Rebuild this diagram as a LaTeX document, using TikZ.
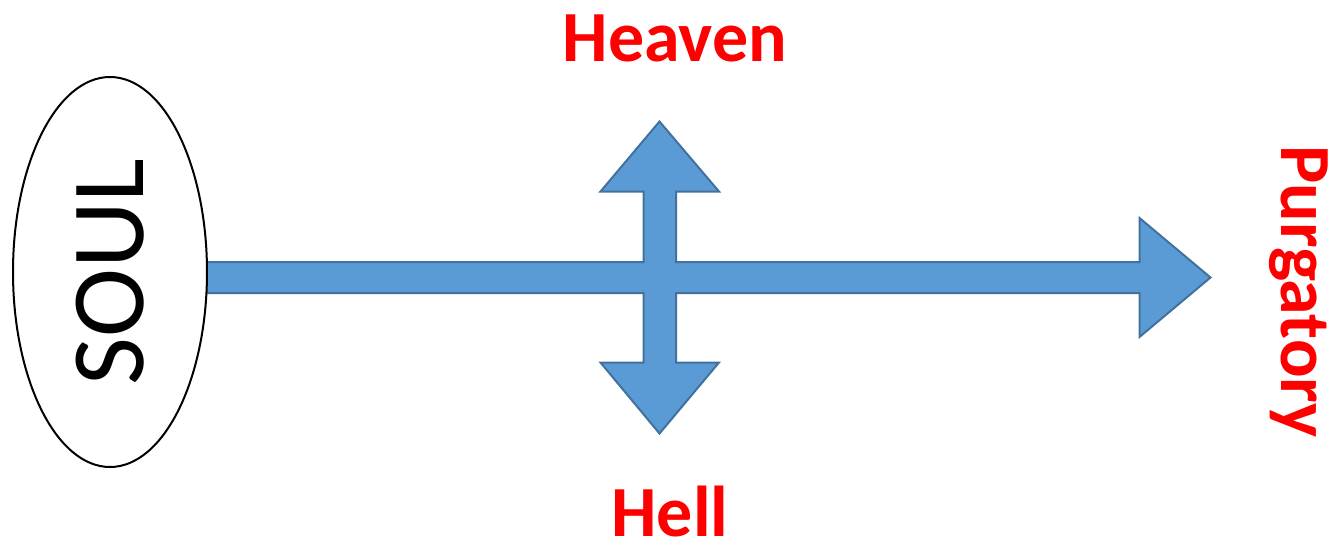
\documentclass[tikz,border=0pt]{standalone}
\usepackage{fontspec}
\setmainfont{Carlito}
\usepackage{tikz}
\usetikzlibrary{shapes.geometric,positioning,calc}
\definecolor{arrowblue}{HTML}{5B9BD5}
\definecolor{arrowedge}{HTML}{41719C}
\definecolor{labelred}{HTML}{FF0000}

\begin{document}
\begin{tikzpicture}[x=0.5pt,y=0.5pt,
  fate/.style={text=labelred,font=\bfseries\fontsize{36}{40}\selectfont,inner sep=0pt}]
  \useasboundingbox (0,0) rectangle (1334,548); % 図全体の大きさ
  \coordinate (mid) at (659.5,270.5); % 十字の交点
  \coordinate (start) at (205,270.5); % 横矢印の始点
  \fill[arrowblue] (start) ++(0,15.5) -- (643.5,286) -- (643.5,356.5) -- (600.5,356.5)
    -- (659.5,426.5) -- (719,356.5) -- (676,356.5) -- (676,286) -- (1139.5,286)
    -- (1139.5,330) -- (1210.5,270.5) -- (1139.5,211) -- (1139.5,255) -- (676,255)
    -- (676,185.5) -- (719,185.5) -- (659.5,114.5) -- (600.5,185.5) -- (643.5,185.5)
    -- (643.5,255) -- (205,255) -- cycle; % 矢印の塗り
  \draw[arrowedge,line width=1pt,line join=miter] (start) ++(0,15.5) -- (643.5,286) -- (643.5,356.5) -- (600.5,356.5)
    -- (659.5,426.5) -- (719,356.5) -- (676,356.5) -- (676,286) -- (1139.5,286)
    -- (1139.5,330) -- (1210.5,270.5) -- (1139.5,211) -- (1139.5,255) -- (676,255)
    -- (676,185.5) -- (719,185.5) -- (659.5,114.5) -- (600.5,185.5) -- (643.5,185.5)
    -- (643.5,255) -- (205,255); % 矢印の輪郭
  \node[ellipse,draw,line width=1pt,fill=white,rotate=90,minimum width=195pt,minimum height=97pt,
    inner sep=0pt,font=\fontsize{52}{56}\selectfont] (soul) at (110,276) {SOUL}; % 魂の楕円
  \node[fate,anchor=base] (heaven) at (675,486.3) {Heaven}; % 上向きの行き先
  \node[fate,anchor=base] (hell) at (670,12) {Hell}; % 下向きの行き先
  \node[fate,anchor=base,rotate=-90] (purgatory) at (1281,256.5) {Purgatory}; % 右向きの行き先
\end{tikzpicture}
\end{document}
